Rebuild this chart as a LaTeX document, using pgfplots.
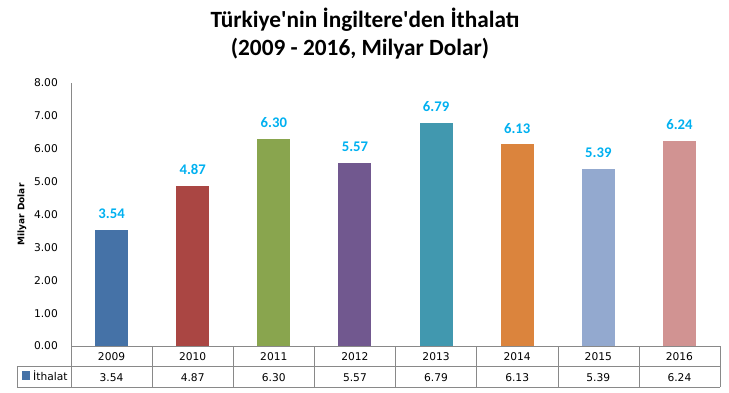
\documentclass[border=0pt]{standalone}
\usepackage{pgfplots}
\pgfplotsset{compat=1.18}
\usepackage{fontspec}
\setmainfont{DejaVu Sans}
\newfontfamily\carlito{Carlito}
\definecolor{c1}{HTML}{4572A7}
\definecolor{c2}{HTML}{AA4643}
\definecolor{c3}{HTML}{89A54E}
\definecolor{c4}{HTML}{71588F}
\definecolor{c5}{HTML}{4198AF}
\definecolor{c6}{HTML}{DB843D}
\definecolor{c7}{HTML}{93A9CF}
\definecolor{c8}{HTML}{D19392}
\definecolor{lab}{RGB}{0,176,240}
\definecolor{ln}{HTML}{898989}
\begin{document}
\begin{tikzpicture}[x=1pt,y=1pt]
\useasboundingbox (0,0) rectangle (729,392);
\node[font=\carlito\bfseries\fontsize{23.3}{27}\selectfont, anchor=base, inner sep=0pt] at (365,364) {Türkiye'nin İngiltere'den İthalatı};
\node[font=\carlito\bfseries\fontsize{23.3}{27}\selectfont, anchor=base, inner sep=0pt] at (360,337) {(2009 - 2016, Milyar Dolar)};
\begin{axis}[
  at={(71pt,46pt)}, anchor=south west, scale only axis,
  width=649pt, height=263pt,
  xmin=0, xmax=8, ymin=0, ymax=8,
  ybar, bar width=33pt, bar shift=0pt,
  clip=false,
  axis x line*=bottom, axis y line*=left,
  axis line style={ln},
  major tick length=0pt,
  ytick={0,1,...,8},
  yticklabel style={font=\fontsize{10.67}{12}\selectfont, anchor=east, inner sep=0pt, xshift=-13pt},
  xtick={0.5,1.5,...,7.5},
  xticklabels={{2009\\3.54},{2010\\4.87},{2011\\6.30},{2012\\5.57},{2013\\6.79},{2014\\6.13},{2015\\5.39},{2016\\6.24}},
  xticklabel style={align=center, font=\fontsize{10.67}{21}\selectfont, anchor=north, inner sep=0pt, yshift=-6.2pt},
  /pgf/number format/.cd, fixed, fixed zerofill, precision=2, assume math mode=true,
  /pgfplots/.cd,
  ylabel={Milyar Dolar},
  ylabel style={font=\bfseries\fontsize{9}{10}\selectfont, at={(axis description cs:-0.0755,0.5)}, anchor=center},
  nodes near coords,
  nodes near coords style={font=\carlito\bfseries\fontsize{14.7}{16}\selectfont, text=lab, anchor=base, inner sep=0pt, yshift=11pt},
]
\addplot[fill=c1, draw=none] coordinates {(0.5,3.54)};
\addplot[fill=c2, draw=none] coordinates {(1.5,4.87)};
\addplot[fill=c3, draw=none] coordinates {(2.5,6.30)};
\addplot[fill=c4, draw=none] coordinates {(3.5,5.57)};
\addplot[fill=c5, draw=none] coordinates {(4.5,6.79)};
\addplot[fill=c6, draw=none] coordinates {(5.5,6.13)};
\addplot[fill=c7, draw=none] coordinates {(6.5,5.39)};
\addplot[fill=c8, draw=none] coordinates {(7.5,6.24)};
\pgfplotsinvokeforeach{0,...,8}{\draw[ln] (axis cs:#1,0) -- ++(0pt,-41pt);}
\draw[ln] ([xshift=-54pt,yshift=-20pt]axis cs:0,0) -- ([yshift=-20pt]axis cs:8,0);
\draw[ln] ([xshift=-54pt,yshift=-41pt]axis cs:0,0) -- ([yshift=-41pt]axis cs:8,0);
\draw[ln] ([xshift=-54pt,yshift=-20pt]axis cs:0,0) -- ++(0pt,-21pt);
\fill[c1] ([xshift=-49pt,yshift=-25pt]axis cs:0,0) rectangle ++(8pt,-9pt);
\node[anchor=base west, inner sep=0pt, font=\fontsize{10.67}{12}\selectfont] at ([xshift=-38pt,yshift=-34.5pt]axis cs:0,0) {İthalat};
\end{axis}
\end{tikzpicture}
\end{document}
